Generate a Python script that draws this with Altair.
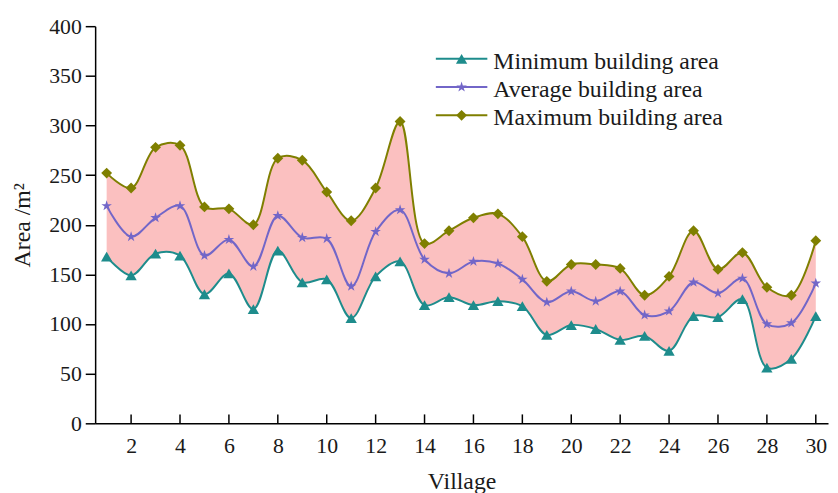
import altair as alt
import pandas as pd

villages = list(range(1, 31))
min_area = [168, 149, 171, 169, 130, 151, 115, 174, 142, 145, 106, 148, 163, 119, 127,
            119, 123, 118, 89, 99, 95, 84, 88, 73, 108, 107, 125, 56, 65, 108]
avg_area = [219, 188, 207, 219, 169, 185, 158, 209, 187, 186, 138, 193, 215, 165, 151,
            163, 161, 145, 122, 133, 123, 133, 109, 113, 142, 131, 146, 100, 101, 141]
max_area = [252, 237, 278, 280, 218, 216, 200, 267, 265, 233, 204, 237, 304, 181, 194,
            207, 211, 188, 143, 160, 160, 156, 129, 148, 194, 155, 172, 137, 129, 184]
series_names = ["Minimum building area", "Average building area", "Maximum building area"]
legend_rows = [0, 1, 2]
x_ticks = list(range(2, 31, 2))

colors = ["#1E8C8C", "#7266C8", "#7F7F00"]
STAR = ("M0,-1L0.2245,-0.309L0.951,-0.309L0.363,0.118L0.588,0.809L0,0.382"
        "L-0.588,0.809L-0.363,0.118L-0.951,-0.309L-0.2245,-0.309Z")
shapes = ["triangle-up", STAR, "diamond"]
sizes = [130, 120, 150]

FONT = "Liberation Serif"
W, H = 740, 401
INTERP = "catmull-rom"

wide = pd.DataFrame({"village": villages, "min": min_area, "avg": avg_area, "max": max_area})
long_rows = []
for name, vals in zip(series_names, [min_area, avg_area, max_area]):
    for v, a in zip(villages, vals):
        long_rows.append({"village": v, "area": a, "series": name})
long = pd.DataFrame(long_rows)
ticks_df = pd.DataFrame({"t": x_ticks})
legend_df = pd.DataFrame({"series": series_names, "row": legend_rows})

xscale = alt.Scale(domain=[0.53, 30.5], nice=False, zero=False)
yscale = alt.Scale(domain=[0, 400], nice=False)
cscale = alt.Scale(domain=series_names, range=colors)
sscale = alt.Scale(domain=series_names, range=shapes)
zscale = alt.Scale(domain=series_names, range=sizes)

x_enc = alt.X("village:Q", scale=xscale,
              axis=alt.Axis(values=x_ticks, ticks=False, grid=False, title="Village",
                            labelPadding=12, titlePadding=14, format="d"))
y_enc = alt.Y("area:Q", scale=yscale,
              axis=alt.Axis(values=list(range(0, 401, 50)), grid=False, tickSize=10,
                            tickWidth=1.5, title="Area /m²", labelPadding=4,
                            titlePadding=14))

area = alt.Chart(wide).mark_area(interpolate=INTERP, color="#FBC0C0").encode(
    x=x_enc,
    y=alt.Y("max:Q", scale=yscale),
    y2="min:Q",
)

lines = alt.Chart(long).mark_line(interpolate=INTERP, strokeWidth=2).encode(
    x="village:Q",
    y="area:Q",
    color=alt.Color("series:N", scale=cscale, legend=None),
    detail="series:N",
)

points = alt.Chart(long).mark_point(filled=True, opacity=1).encode(
    x="village:Q",
    y=y_enc,
    color=alt.Color("series:N", scale=cscale, legend=None),
    shape=alt.Shape("series:N", scale=sscale, legend=None),
    size=alt.Size("series:N", scale=zscale, legend=None),
)

xticks = alt.Chart(ticks_df).mark_rule(color="black", strokeWidth=1.5).encode(
    x=alt.X("t:Q", scale=xscale),
    y=alt.value(H),
    y2=alt.value(H - 9),
)

main = alt.layer(area, lines, points, xticks)

ly = alt.Y("row:Q", scale=alt.Scale(domain=[0, 2], range=[33, 90], nice=False, zero=False),
           axis=None)

leg_rule = alt.Chart(legend_df).mark_rule(strokeWidth=2).encode(
    y=ly,
    x=alt.value(344), x2=alt.value(396),
    color=alt.Color("series:N", scale=cscale, legend=None),
)
leg_pts = alt.Chart(legend_df).mark_point(filled=True, opacity=1).encode(
    y=ly,
    x=alt.value(370),
    color=alt.Color("series:N", scale=cscale, legend=None),
    shape=alt.Shape("series:N", scale=sscale, legend=None),
    size=alt.Size("series:N", scale=zscale, legend=None),
)
leg_txt = alt.Chart(legend_df).mark_text(
    align="left", baseline="middle", font=FONT, fontSize=24, color="#1a1a1a", dy=3
).encode(
    y=ly,
    x=alt.value(402),
    text="series:N",
)
legend = alt.layer(leg_rule, leg_pts, leg_txt)

chart = alt.layer(main, legend).resolve_scale(y="independent").properties(
    width=W, height=H,
    autosize=alt.AutoSizeParams(type="none"),
    padding={"left": 88, "top": 16, "right": 2, "bottom": 68},
).configure_view(stroke=None).configure_axis(
    labelFont=FONT, titleFont=FONT, labelFontSize=22, titleFontSize=24,
    labelColor="#1a1a1a", titleColor="#1a1a1a", titleFontWeight="normal",
    domainColor="black", domainWidth=1.5, tickColor="black",
)

chart.save("out.html", embed_options={"renderer": "svg", "actions": False})
